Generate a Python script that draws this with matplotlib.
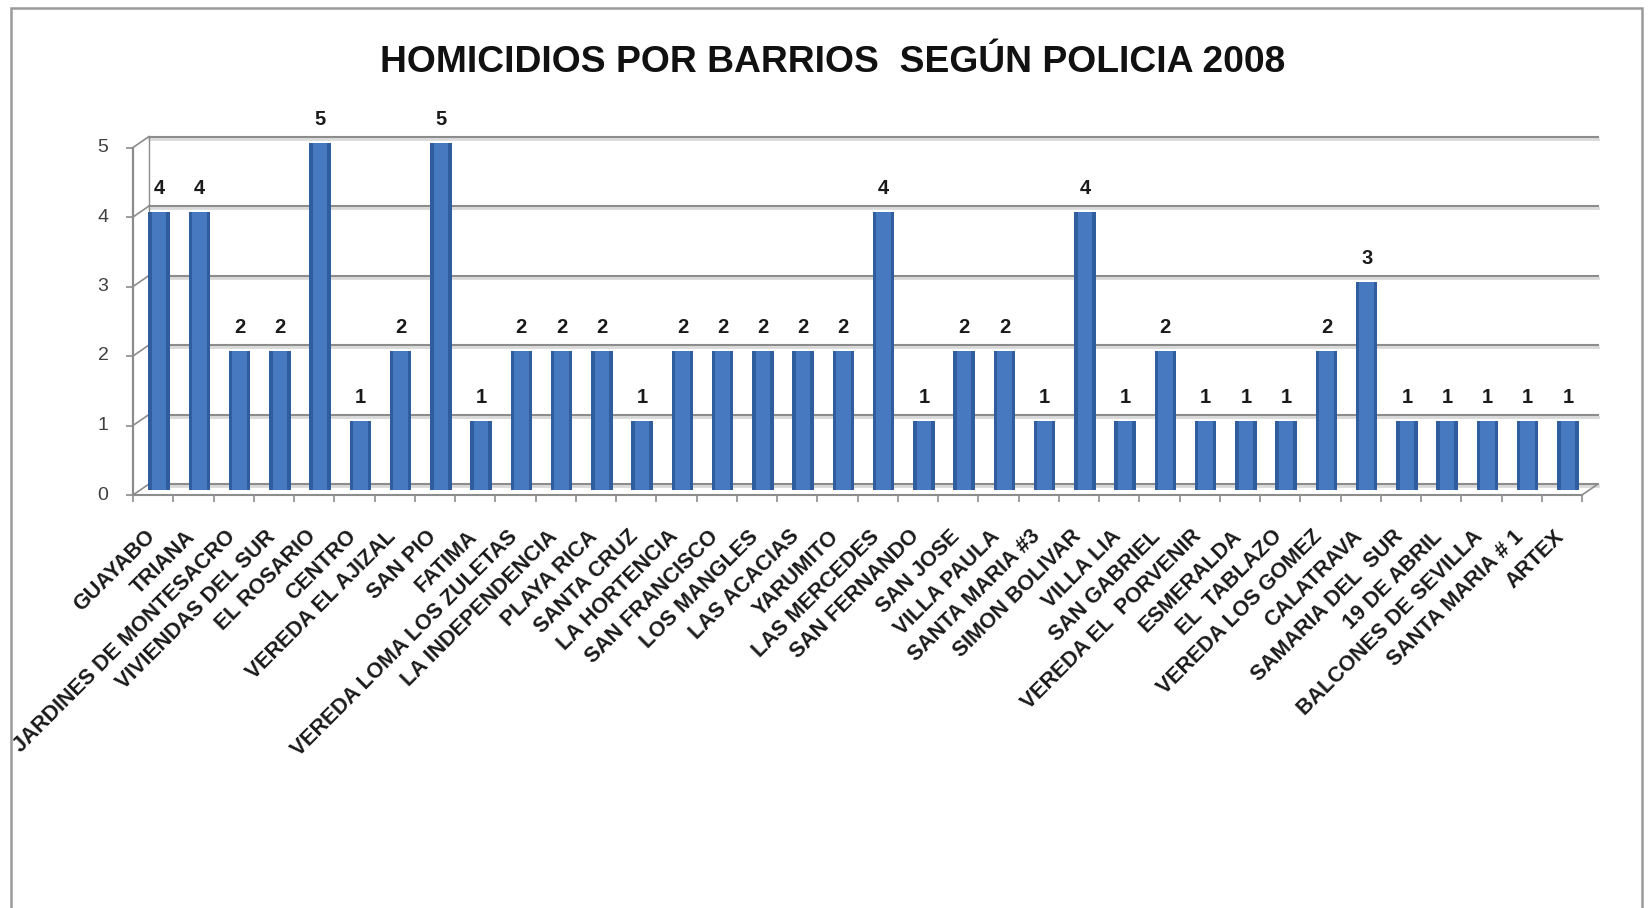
import numpy as np
import matplotlib
matplotlib.use("Agg")
import matplotlib.pyplot as plt
import matplotlib.transforms as mtransforms
from matplotlib.patches import Rectangle

plt.rcParams['font.family'] = ['Liberation Sans', 'DejaVu Sans']

# Homicidios por barrio (Policia, 2008)
barrios = [
    "GUAYABO", "TRIANA", "JARDINES DE MONTESACRO", "VIVIENDAS DEL SUR",
    "EL ROSARIO", "CENTRO", "VEREDA EL AJIZAL", "SAN PIO", "FATIMA",
    "VEREDA LOMA LOS ZULETAS", "LA INDEPENDENCIA", "PLAYA RICA", "SANTA CRUZ",
    "LA HORTENCIA", "SAN FRANCISCO", "LOS MANGLES", "LAS ACACIAS", "YARUMITO",
    "LAS MERCEDES", "SAN FERNANDO", "SAN JOSE", "VILLA PAULA", "SANTA MARIA #3",
    "SIMON BOLIVAR", "VILLA LIA", "SAN GABRIEL", "VEREDA EL  PORVENIR",
    "ESMERALDA", "EL  TABLAZO", "VEREDA LOS GOMEZ", "CALATRAVA",
    "SAMARIA DEL  SUR", "19 DE ABRIL", "BALCONES DE SEVILLA", "SANTA MARIA # 1",
    "ARTEX",
]
homicidios = [4, 4, 2, 2, 5, 1, 2, 5, 1, 2, 2, 2, 1, 2, 2, 2, 2, 2, 4, 1,
              2, 2, 1, 4, 1, 2, 1, 1, 1, 2, 3, 1, 1, 1, 1, 1]
y_ticks = [0, 1, 2, 3, 4, 5]

W, H = 1648, 908
fig = plt.figure(figsize=(W / 100, H / 100), dpi=100)

# outer chart border
fig.patches.append(Rectangle((11 / W, -0.02), (1642 - 11) / W, 1.02 - 8 / H,
                             transform=fig.transFigure, fill=False,
                             edgecolor="#9a9a9a", linewidth=1.8))

fig.text(0.505, 1 - 63 / H, "HOMICIDIOS POR BARRIOS  SEGÚN POLICIA 2008",
         ha="center", va="center", fontsize=26.8, fontweight="bold", color="#111111")

# axes = middle depth plane where the columns stand
ax = fig.add_axes([139 / W, (H - 490) / H, (1588 - 139) / W, (490 - 142.5) / H])
ax.set_xlim(-0.5, len(barrios) - 0.5)
ax.set_ylim(0, 5)
for s in ax.spines.values():
    s.set_visible(False)
ax.patch.set_alpha(0)


def shift(dx, dy):
    return mtransforms.ScaledTranslation(dx / 100, dy / 100, fig.dpi_scale_trans)


back = ax.transData + shift(10, 6)
front = ax.transData + shift(-6, -5)
x0, x1 = -0.5, len(barrios) - 0.5
grid_c = "#8c8c8c"

# back wall gridlines with a soft shadow, and left wall connectors
for v in y_ticks:
    ax.plot([x0, x1], [v, v], transform=back + shift(0, -2), color="#d9d9d9",
            lw=2.0, clip_on=False, zorder=0)
    ax.plot([x0, x1], [v, v], transform=back, color=grid_c, lw=1.5,
            clip_on=False, zorder=1)
    xa, ya = front.transform((x0, v))
    xb, yb = back.transform((x0, v))
    ax.plot([xa, xb], [ya, yb], transform=None, color=grid_c, lw=1.2,
            clip_on=False, zorder=1)
ax.plot([x0, x0], [0, 5], transform=back, color=grid_c, lw=1.0,
        clip_on=False, zorder=1)

# floor: front edge and right connector
ax.plot([x0, x1], [0, 0], transform=front, color=grid_c, lw=1.5,
        clip_on=False, zorder=1)
xa, ya = front.transform((x1, 0))
xb, yb = back.transform((x1, 0))
ax.plot([xa, xb], [ya, yb], transform=None, color=grid_c, lw=1.2,
        clip_on=False, zorder=1)

# front value axis with its ticks
ax.plot([x0, x0], [0, 5], transform=front, color=grid_c, lw=1.6,
        clip_on=False, zorder=1)
ax.plot([x0] * len(y_ticks), y_ticks, transform=front, ls="none", marker=0,
        ms=5, mew=1.2, color=grid_c, clip_on=False)
for v in y_ticks:
    ax.text(x0, v, str(v), transform=front + shift(-30, 0), ha="center",
            va="center", fontsize=14, color="#404040")

# category ticks at column boundaries
bounds = np.arange(len(barrios) + 1) - 0.5
ax.plot(bounds, np.zeros_like(bounds), transform=front, ls="none", marker=3,
        ms=5, mew=1.2, color=grid_c, clip_on=False)

# columns: dark body with a lighter face
xs = np.arange(len(barrios))
outer = ax.bar(xs, homicidios, width=0.53, color="#2f5d9e", zorder=3)
ax.bar(xs, homicidios, width=0.36, color="#4679bf", zorder=4)
ax.bar_label(outer, labels=[str(v) for v in homicidios], padding=10,
             fontsize=14.5, fontweight="bold", color="#1a1a1a")

ax.set_yticks([])
ax.set_xticks(xs)
ax.set_xticklabels(barrios, rotation=45, ha="right", fontsize=15.5,
                   fontweight="bold", color="#1a1a1a")
ax.tick_params(axis="x", length=0, pad=26)

fig.savefig("out.png", dpi=100, facecolor="white")
